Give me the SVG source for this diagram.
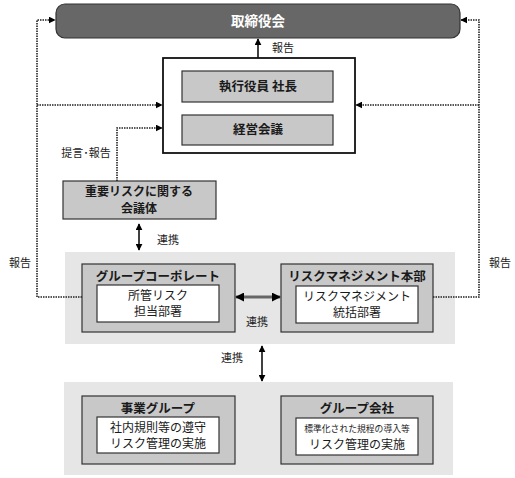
<svg xmlns="http://www.w3.org/2000/svg" width="515" height="478" viewBox="0 0 515 478">
<defs>
<marker id="ah" viewBox="0 0 10 10" refX="9" refY="5" markerWidth="7" markerHeight="7" markerUnits="userSpaceOnUse" orient="auto-start-reverse"><path d="M0,0 L10,5 L0,10 z" fill="#000"/></marker>
<marker id="ahs" viewBox="0 0 10 10" refX="9" refY="5" markerWidth="3" markerHeight="3" orient="auto-start-reverse"><path d="M0,0 L10,5 L0,10 z" fill="#000"/></marker>
</defs>
<style>
text{font-family:"Noto Sans CJK JP","Noto Sans CJK SC",sans-serif;text-anchor:middle;fill:#1a1a1a}
.b{font-weight:bold}
.lbl{font-size:11px}
.t{font-size:12px}
.tb{font-size:12.5px;font-weight:bold}
.gbox{fill:#c8c8c8;stroke:#333;stroke-width:1.2}
.wbox{fill:#fff;stroke:#333;stroke-width:1.2}
.dot{fill:none;stroke:#222;stroke-width:1.6;stroke-dasharray:1.5 1}
.sol{fill:none;stroke:#111;stroke-width:1.6}
.region{fill:#e6e6e6}
</style>
<rect class="region" x="65" y="252" width="390" height="92"/>
<rect class="region" x="64" y="382" width="389" height="93"/>
<g id="board">
<rect x="56" y="4" width="404" height="34" rx="9" fill="#676767" stroke="#333" stroke-width="1.2"/>
<text x="258" y="26" class="b" style="font-size:13.5px;fill:#fff">取締役会</text>
</g>
<g id="exec">
<rect x="163" y="58" width="192" height="95" fill="#fff" stroke="#111" stroke-width="1.8"/>
<rect class="gbox" x="182" y="71" width="151" height="31"/>
<text x="258" y="91" class="tb">執行役員 社長</text>
<rect class="gbox" x="182" y="115" width="151" height="30"/>
<text x="258" y="134" class="tb">経営会議</text>
</g>
<g id="conference">
<rect class="gbox" x="63" y="181" width="153" height="38"/>
<text x="139" y="196" class="b" style="font-size:12px">重要リスクに関する</text>
<text x="139" y="213" class="b" style="font-size:12px">会議体</text>
</g>
<g id="groupcorp">
<rect class="gbox" x="82" y="264" width="153" height="68"/>
<text x="158" y="281" class="tb">グループコーポレート</text>
<rect class="wbox" x="97" y="285" width="122" height="37"/>
<text x="158" y="300" class="t">所管リスク</text>
<text x="158" y="316" class="t">担当部署</text>
</g>
<g id="riskhq">
<rect class="gbox" x="281" y="264" width="152" height="68"/>
<text x="357" y="281" class="tb">リスクマネジメント本部</text>
<rect class="wbox" x="296" y="286" width="122" height="37"/>
<text x="357" y="301" class="t">リスクマネジメント</text>
<text x="357" y="317" class="t">統括部署</text>
</g>
<g id="bizgroup">
<rect class="gbox" x="82" y="396" width="153" height="68"/>
<text x="158" y="413" class="tb">事業グループ</text>
<rect class="wbox" x="97" y="417" width="122" height="36"/>
<text x="158" y="432" class="t">社内規則等の遵守</text>
<text x="158" y="448" class="t">リスク管理の実施</text>
</g>
<g id="groupco">
<rect class="gbox" x="281" y="396" width="152" height="68"/>
<text x="357" y="413" class="tb">グループ会社</text>
<rect class="wbox" x="296" y="418" width="122" height="37"/>
<text x="357" y="432" style="font-size:8.8px">標準化された規程の導入等</text>
<text x="357" y="449" class="t">リスク管理の実施</text>
</g>
<g id="connectors">
<path class="sol" d="M258,58 V39" marker-end="url(#ah)"/>
<path class="dot" d="M82,297 H37 V20 H55" marker-end="url(#ah)"/>
<path class="dot" d="M37,105 H162" marker-end="url(#ah)"/>
<path class="dot" d="M433,297 H479 V20 H461" marker-end="url(#ah)"/>
<path class="dot" d="M479,105 H356" marker-end="url(#ah)"/>
<path class="dot" d="M117,181 V128 H162" marker-end="url(#ah)"/>
<path class="sol" d="M139,224 V250" marker-start="url(#ah)" marker-end="url(#ah)"/>
<path d="M236,297 H280" stroke="#666" stroke-width="3" fill="none" marker-start="url(#ahs)" marker-end="url(#ahs)"/>
<path class="sol" d="M262,346 V381" marker-start="url(#ah)" marker-end="url(#ah)"/>
</g>
<g id="labels">
<text x="283" y="52" class="lbl">報告</text>
<text x="86" y="157" class="lbl">提言･報告</text>
<text x="168" y="244" class="lbl">連携</text>
<text x="20" y="267" class="lbl">報告</text>
<text x="500" y="267" class="lbl">報告</text>
<text x="257" y="326" class="lbl">連携</text>
<text x="232" y="362" class="lbl">連携</text>
</g>
</svg>
